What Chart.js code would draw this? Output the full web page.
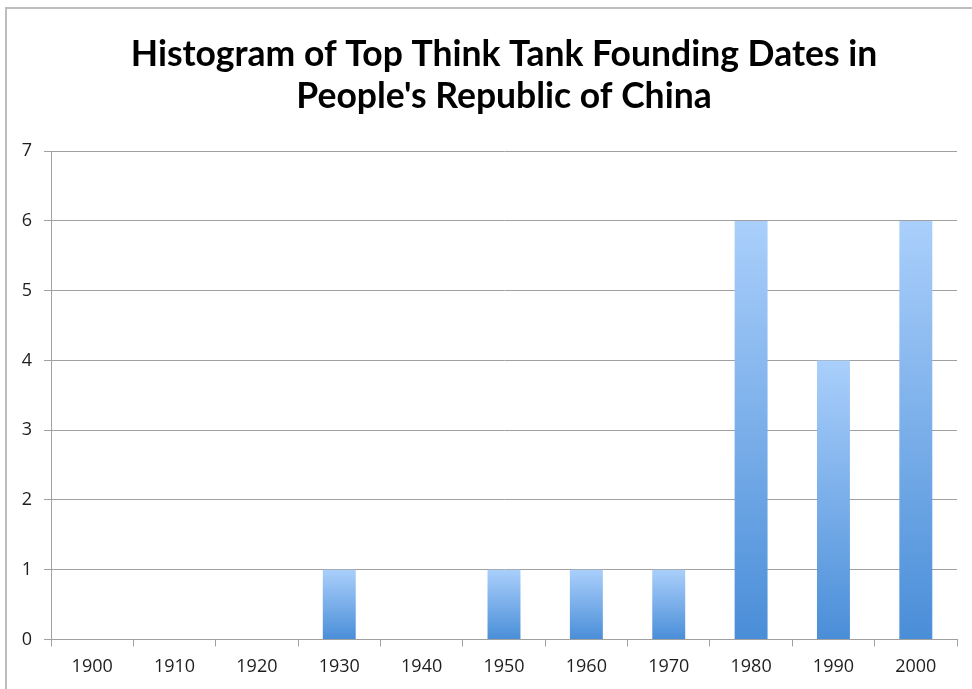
<!DOCTYPE html>
<html>
<head>
<meta charset="utf-8">
<script src="https://cdn.jsdelivr.net/npm/chart.js@4/dist/chart.umd.min.js"></script>
<style>
  html, body { margin: 0; padding: 0; background: #fff; }
  #wrap { position: relative; width: 972px; height: 689px; overflow: hidden; }
  #frame { position: absolute; left: 5px; top: 7px; width: 1000px; height: 720px;
           border-left: 2px solid #bdbdbd; border-top: 2px solid #bdbdbd; }
  #c { position: absolute; left: 0; top: 0; }
</style>
</head>
<body>
<div id="wrap">
  <div id="frame"></div>
  <canvas id="c" width="972" height="689"></canvas>
</div>
<script>
// Founding decades and number of think tanks founded in each
const decades = ['1900', '1910', '1920', '1930', '1940', '1950', '1960', '1970', '1980', '1990', '2000'];
const counts = [0, 0, 0, 1, 0, 1, 1, 1, 6, 4, 6];
const yTicks = [0, 1, 2, 3, 4, 5, 6, 7];
const titleLines = ['Histogram of Top Think Tank Founding Dates in', "People's Republic of China"];

const gridGray = '#a0a0a0';
const labelFont = { family: "'Open Sans'", size: 18 };

// Vertical light-to-dark blue fill for each bar, spanning that bar only
function barFill(ctx) {
  const chart = ctx.chart;
  const y = chart.scales.y;
  if (!y || ctx.parsed === undefined || ctx.parsed === null) return '#7fb0ec';
  const top = y.getPixelForValue(ctx.parsed.y);
  const base = y.getPixelForValue(0);
  if (!isFinite(top) || !isFinite(base) || top === base) return '#7fb0ec';
  const g = chart.ctx.createLinearGradient(0, top, 0, base);
  g.addColorStop(0, '#aacffb');
  g.addColorStop(1, '#4a8ed8');
  return g;
}

new Chart(document.getElementById('c'), {
  type: 'bar',
  data: {
    labels: decades,
    datasets: [{
      data: counts,
      backgroundColor: barFill,
      borderWidth: 0,
      categoryPercentage: 0.4,
      barPercentage: 1.0
    }]
  },
  options: {
    responsive: false,
    animation: false,
    layout: { padding: { left: 0, right: 15, top: 0, bottom: 1 } },
    plugins: {
      legend: { display: false },
      tooltip: { enabled: false },
      title: {
        display: true,
        fullSize: false,
        text: titleLines,
        color: '#000',
        font: { family: 'Lato', size: 35.5, weight: 'bold', lineHeight: 1.2 },
        padding: { top: 33, bottom: 33 }
      }
    },
    scales: {
      x: {
        offset: true,
        grid: {
          offset: true,
          drawOnChartArea: false,
          drawTicks: true,
          tickLength: 7,
          color: gridGray
        },
        border: { display: true, color: gridGray, width: 1 },
        ticks: { color: '#1e1e1e', font: labelFont, padding: 10, maxRotation: 0 }
      },
      y: {
        min: 0,
        max: 7,
        afterBuildTicks: (scale) => { scale.ticks = yTicks.map(v => ({ value: v })); },
        afterFit: (scale) => { scale.width = 51; },
        grid: { color: gridGray, tickLength: 7, drawTicks: true },
        border: { display: true, color: gridGray, width: 1 },
        ticks: { color: '#1e1e1e', font: labelFont, padding: 12 }
      }
    }
  }
});
</script>
</body>
</html>
